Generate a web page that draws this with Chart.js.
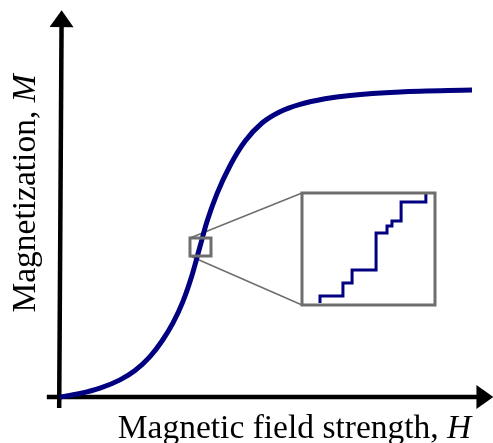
<!DOCTYPE html>
<html>
<head>
<meta charset="utf-8">
<script src="https://cdn.jsdelivr.net/npm/chart.js@4.4.1/dist/chart.umd.min.js"></script>
<style>
  html, body { margin: 0; padding: 0; background: #ffffff; }
  #wrap { width: 493px; height: 443px; position: relative; }
</style>
</head>
<body>
<div id="wrap"><canvas id="c" width="493" height="443"></canvas></div>
<script>
// ---- data (field strength H, magnetization M, arbitrary units) ----
const H = [0, 0.485, 0.971, 1.456, 1.820, 2.184, 2.476, 2.743, 2.985, 3.204, 3.398, 3.568, 3.811, 4.126, 4.490, 4.903, 5.340, 5.825, 6.432, 7.039, 8.252, 10];
const M = [0, 0.0114, 0.0287, 0.0557, 0.0863, 0.1316, 0.1824, 0.2414, 0.3114, 0.3964, 0.4902, 0.5713, 0.6625, 0.7534, 0.8329, 0.8925, 0.9293, 0.9531, 0.9713, 0.9824, 0.9938, 1.0];

// magnified window on the curve
const zoomH = [3.155, 3.665];
const zoomM = [0.4593, 0.5179];

// Barkhausen steps inside the window (corner points)
const stepH = [3.224, 3.224, 3.312, 3.312, 3.347, 3.347, 3.439, 3.439, 3.481, 3.481, 3.500, 3.500, 3.535, 3.535, 3.630, 3.630];
const stepM = [0.4604, 0.4640, 0.4640, 0.4708, 0.4708, 0.4776, 0.4776, 0.4970, 0.4970, 0.5006, 0.5006, 0.5033, 0.5033, 0.5132, 0.5132, 0.5174];

// labels
const xLabel = ['Magnetic field strength, ', 'H'];
const yLabel = ['Magnetization, ', 'M'];

// ---- layout (pixels) ----
const W = 493, HT = 443;
const ORIGIN = { x: 60, y: 397 };   // pixel of H=0, M=0
const UNIT = { x: 41.2, y: 307 };   // pixels per unit
const INSET = { left: 302, right: 435, top: 193, bottom: 305 };

const xMin = -ORIGIN.x / UNIT.x, xMax = (W - ORIGIN.x) / UNIT.x;
const yMax = ORIGIN.y / UNIT.y, yMin = (ORIGIN.y - HT) / UNIT.y;

const kx = (zoomH[1] - zoomH[0]) / (INSET.right - INSET.left);
const ky = (zoomM[1] - zoomM[0]) / (INSET.bottom - INSET.top);
const x2Min = zoomH[0] - INSET.left * kx, x2Max = zoomH[0] + (W - INSET.left) * kx;
const y2Max = zoomM[1] + INSET.top * ky, y2Min = zoomM[0] - (HT - INSET.bottom) * ky;

const NAVY = '#000080', GREY = '#6e6e6e';

function box(h, m) {
  const p = [[h[0], m[0]], [h[1], m[0]], [h[1], m[1]], [h[0], m[1]], [h[0], m[0]], [h[1], m[0]]];
  return p.map(([x, y]) => ({ x, y }));
}

const curve = H.map((h, i) => ({ x: h, y: M[i] }));
const steps = stepH.map((h, i) => ({ x: h, y: stepM[i] }));

const decor = {
  id: 'decor',
  beforeDatasetsDraw(chart) {
    const ctx = chart.ctx;
    const sx = chart.scales.x, sy = chart.scales.y, s2x = chart.scales.x2, s2y = chart.scales.y2;
    ctx.save();
    // connector lines from window to inset
    ctx.strokeStyle = GREY; ctx.lineWidth = 1.5;
    [zoomM[1], zoomM[0]].forEach(m => {
      ctx.beginPath();
      ctx.moveTo(sx.getPixelForValue(zoomH[0]), sy.getPixelForValue(m));
      ctx.lineTo(s2x.getPixelForValue(zoomH[0]), s2y.getPixelForValue(m));
      ctx.stroke();
    });
    // axes with arrows
    ctx.strokeStyle = '#000'; ctx.fillStyle = '#000'; ctx.lineWidth = 4.5;
    const axes = [
      { from: [-0.32, 0], to: [10.52, 0] },
      { from: [-0.02, -0.036], to: [0.04, 1.26] }
    ];
    axes.forEach(a => {
      const x0 = sx.getPixelForValue(a.from[0]), y0 = sy.getPixelForValue(a.from[1]);
      const x1 = sx.getPixelForValue(a.to[0]), y1 = sy.getPixelForValue(a.to[1]);
      const len = Math.hypot(x1 - x0, y1 - y0);
      const ux = (x1 - x0) / len, uy = (y1 - y0) / len;
      const L = 17, HW = 12;
      const bx = x1 - ux * L, by = y1 - uy * L;
      ctx.beginPath(); ctx.moveTo(x0, y0); ctx.lineTo(bx + ux, by + uy); ctx.stroke();
      ctx.beginPath();
      ctx.moveTo(x1, y1);
      ctx.lineTo(bx - uy * HW, by + ux * HW);
      ctx.lineTo(bx + uy * HW, by - ux * HW);
      ctx.closePath(); ctx.fill();
    });
    ctx.restore();
  },
  afterDraw(chart) {
    const ctx = chart.ctx;
    const size = 33.5;
    const reg = size + 'px "Liberation Serif", "DejaVu Serif", serif';
    const ita = 'italic ' + reg;
    function mixed(parts, cx, baseY) {
      ctx.font = reg; const w1 = ctx.measureText(parts[0]).width;
      ctx.font = ita; const w2 = ctx.measureText(parts[1]).width;
      const start = cx - (w1 + w2) / 2;
      ctx.textBaseline = 'alphabetic'; ctx.textAlign = 'left';
      ctx.font = reg; ctx.fillText(parts[0], start, baseY);
      ctx.font = ita; ctx.fillText(parts[1], start + w1, baseY);
    }
    ctx.save();
    ctx.fillStyle = '#000';
    mixed(xLabel, 294.5, 438);
    ctx.translate(35, 193.5);
    ctx.rotate(-Math.PI / 2);
    mixed(yLabel, 0, 0);
    ctx.restore();
  }
};

new Chart(document.getElementById('c'), {
  type: 'scatter',
  data: {
    datasets: [
      { label: 'window', data: box(zoomH, zoomM), showLine: true, borderColor: GREY, borderWidth: 3,
        borderJoinStyle: 'miter', pointRadius: 0, tension: 0, xAxisID: 'x', yAxisID: 'y' },
      { label: 'inset', data: box(zoomH, zoomM), showLine: true, borderColor: GREY, borderWidth: 3,
        borderJoinStyle: 'miter', pointRadius: 0, tension: 0, xAxisID: 'x2', yAxisID: 'y2' },
      { label: 'steps', data: steps, showLine: true, borderColor: NAVY, borderWidth: 3,
        borderJoinStyle: 'miter', pointRadius: 0, tension: 0, xAxisID: 'x2', yAxisID: 'y2' },
      { label: 'M(H)', data: curve, showLine: true, borderColor: NAVY, borderWidth: 5,
        pointRadius: 0, cubicInterpolationMode: 'monotone', xAxisID: 'x', yAxisID: 'y' }
    ]
  },
  options: {
    responsive: false,
    animation: false,
    layout: { padding: 0 },
    plugins: { legend: { display: false }, tooltip: { enabled: false }, title: { display: false } },
    scales: {
      x: { type: 'linear', display: false, min: xMin, max: xMax },
      y: { type: 'linear', display: false, min: yMin, max: yMax },
      x2: { type: 'linear', display: false, min: x2Min, max: x2Max, axis: 'x' },
      y2: { type: 'linear', display: false, min: y2Min, max: y2Max, axis: 'y' }
    }
  },
  plugins: [decor]
});
</script>
</body>
</html>
